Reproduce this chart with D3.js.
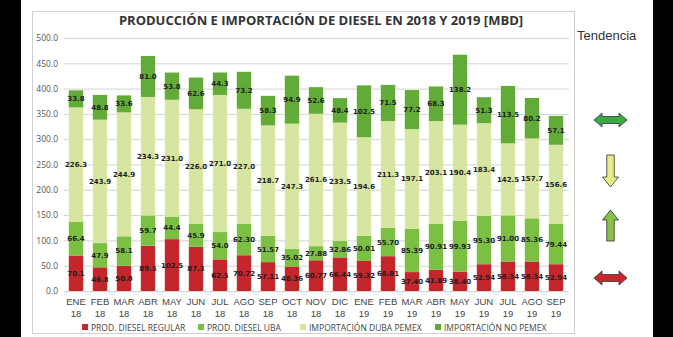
<!DOCTYPE html>
<html><head><meta charset="utf-8">
<script src="https://cdn.jsdelivr.net/npm/d3@7"></script>
<style>html,body{margin:0;padding:0;background:#fff;}svg{display:block;}</style>
</head><body>
<svg id="c" width="673" height="337"></svg>
<script>
const categories = ["ENE 18","FEB 18","MAR 18","ABR 18","MAY 18","JUN 18","JUL 18","AGO 18","SEP 18","OCT 18","NOV 18","DIC 18","ENE 19","FEB 19","MAR 19","ABR 19","MAY 19","JUN 19","JUL 19","AGO 19","SEP 19"];
const prodRegular = [70.1,46.8,50.0,89.5,102.5,87.3,62.5,70.72,57.11,48.36,60.77,66.44,59.32,68.81,37.40,41.89,38.40,52.94,58.34,58.34,52.94];
const prodRegularLbl = ["70.1","46.8","50.0","89.5","102.5","87.3","62.5","70.72","57.11","48.36","60.77","66.44","59.32","68.81","37.40","41.89","38.40","52.94","58.34","58.34","52.94"];
const prodUba = [66.4,47.9,58.1,59.7,44.4,45.9,54.0,62.30,51.57,35.02,27.88,32.86,50.01,55.70,85.39,90.91,99.93,95.30,91.00,85.36,79.44];
const prodUbaLbl = ["66.4","47.9","58.1","59.7","44.4","45.9","54.0","62.30","51.57","35.02","27.88","32.86","50.01","55.70","85.39","90.91","99.93","95.30","91.00","85.36","79.44"];
const impDuba = [226.3,243.9,244.9,234.3,231.0,226.0,271.0,227.0,218.7,247.3,261.6,233.5,194.6,211.3,197.1,203.1,190.4,183.4,142.5,157.7,156.6];
const impDubaLbl = ["226.3","243.9","244.9","234.3","231.0","226.0","271.0","227.0","218.7","247.3","261.6","233.5","194.6","211.3","197.1","203.1","190.4","183.4","142.5","157.7","156.6"];
const impNoPemex = [33.8,48.8,33.6,81.0,53.8,62.6,44.3,73.2,58.3,94.9,52.6,48.4,102.5,71.5,77.2,68.3,138.2,51.3,113.5,80.2,57.1];
const impNoPemexLbl = ["33.8","48.8","33.6","81.0","53.8","62.6","44.3","73.2","58.3","94.9","52.6","48.4","102.5","71.5","77.2","68.3","138.2","51.3","113.5","80.2","57.1"];
const seriesNames = ["PROD. DIESEL REGULAR","PROD. DIESEL UBA","IMPORTACIÓN DUBA PEMEX","IMPORTACIÓN NO PEMEX"];
const yTicks = [0,50,100,150,200,250,300,350,400,450,500];
const title = "PRODUCCIÓN E IMPORTACIÓN DE DIESEL EN 2018 Y 2019 [MBD]";

const colors = ["#c4262b","#7cc043","#d6e5a0","#62ab36"];
const svg = d3.select("#c");
const font = "'Open Sans', 'Liberation Sans', sans-serif";

// scanned page edges
svg.append("rect").attr("x",0).attr("y",0).attr("width",21).attr("height",337).attr("fill","#000");
svg.append("rect").attr("x",653).attr("y",0).attr("width",20).attr("height",337).attr("fill","#000");
// chart frame
svg.append("rect").attr("x",32.5).attr("y",11.5).attr("width",542).attr("height",322).attr("fill","#fff").attr("stroke","#d0d0d0");

const x = d3.scaleBand().domain(categories).range([64,568]).paddingInner(0.4).paddingOuter(0.2);
const y = d3.scaleLinear().domain([0,500]).range([291,38]);

// gridlines
svg.append("g").selectAll("line").data(yTicks).join("line")
  .attr("x1",64).attr("x2",569).attr("y1",d=>y(d)+0.5).attr("y2",d=>y(d)+0.5)
  .attr("stroke","#d4d4d4").attr("stroke-width",1);

// y axis labels
const yAxis = d3.axisLeft(y).tickValues(yTicks).tickFormat(d3.format(".1f")).tickSize(0).tickPadding(0);
const ya = svg.append("g").attr("transform","translate(58,0)").call(yAxis);
ya.select(".domain").remove();
ya.selectAll("text").attr("font-family",font).attr("font-size",8.5).attr("fill","#555");

// stacked data
const rows = categories.map((c,i)=>({cat:c, s0:prodRegular[i], s1:prodUba[i], s2:impDuba[i], s3:impNoPemex[i]}));
const labels = [prodRegularLbl, prodUbaLbl, impDubaLbl, impNoPemexLbl];
const stack = d3.stack().keys(["s0","s1","s2","s3"])(rows);

stack.forEach((layer,k)=>{
  const g = svg.append("g");
  g.selectAll("rect").data(layer).join("rect")
    .attr("x",d=>x(d.data.cat)).attr("width",x.bandwidth())
    .attr("y",d=>y(d[1])).attr("height",d=>y(d[0])-y(d[1]))
    .attr("fill",colors[k]);
  g.selectAll("text").data(layer).join("text")
    .attr("x",d=>x(d.data.cat)+x.bandwidth()/2)
    .attr("y",d=>(y(d[0])+y(d[1]))/2)
    .attr("dy","0.35em").attr("text-anchor","middle")
    .attr("font-family","'DejaVu Sans', sans-serif").attr("font-weight","bold")
    .attr("font-size",7).attr("fill","#1e1e1e")
    .text((d,i)=>labels[k][i]);
});

// x axis labels (two separate lines)
const xa = svg.append("g");
categories.forEach(c=>{
  const parts = c.split(" ");
  const cx = x(c)+x.bandwidth()/2;
  xa.append("text").attr("x",cx).attr("y",305).attr("text-anchor","middle")
    .attr("font-family","'Liberation Sans', sans-serif").attr("font-size",9.5).attr("fill","#444").text(parts[0]);
  xa.append("text").attr("x",cx).attr("y",316.5).attr("text-anchor","middle")
    .attr("font-family","'Liberation Sans', sans-serif").attr("font-size",9.5).attr("fill","#444").text(parts[1]);
});

// title
svg.append("text").attr("x",321).attr("y",25).attr("text-anchor","middle")
  .attr("font-family","'Open Sans', sans-serif").attr("font-weight","bold").attr("font-size",13).attr("fill","#333")
  .text(title);

// legend
const legX = [82,198,300,435];
seriesNames.forEach((n,k)=>{
  svg.append("rect").attr("x",legX[k]).attr("y",324).attr("width",6).attr("height",6).attr("fill",colors[k]);
  svg.append("text").attr("x",legX[k]+9).attr("y",330.5).attr("font-family",font).attr("font-size",8.5).attr("fill","#444").text(n);
});

// Tendencia
svg.append("text").attr("x",577).attr("y",40).attr("font-family","'Liberation Sans', sans-serif").attr("font-size",13).attr("fill","#333").text("Tendencia");

// arrows
function dblArrow(cx,cy,w,h,sh,hw,fill){
  const hx=w/2, p=[[cx-hx,cy],[cx-hx+hw,cy-h/2],[cx-hx+hw,cy-sh/2],[cx+hx-hw,cy-sh/2],[cx+hx-hw,cy-h/2],[cx+hx,cy],[cx+hx-hw,cy+h/2],[cx+hx-hw,cy+sh/2],[cx-hx+hw,cy+sh/2],[cx-hx+hw,cy+h/2]];
  svg.append("polygon").attr("points",p.map(d=>d.join(",")).join(" ")).attr("fill",fill).attr("stroke","#333").attr("stroke-width",0.8);
}
function vArrow(cx,top,bot,w,sw,hh,up,fill){
  let p;
  if(up){ p=[[cx,top],[cx+w/2,top+hh],[cx+sw/2,top+hh],[cx+sw/2,bot],[cx-sw/2,bot],[cx-sw/2,top+hh],[cx-w/2,top+hh]]; }
  else { p=[[cx,bot],[cx+w/2,bot-hh],[cx+sw/2,bot-hh],[cx+sw/2,top],[cx-sw/2,top],[cx-sw/2,bot-hh],[cx-w/2,bot-hh]]; }
  svg.append("polygon").attr("points",p.map(d=>d.join(",")).join(" ")).attr("fill",fill).attr("stroke","#333").attr("stroke-width",0.8);
}
dblArrow(610.5,120,33,14,7,8,"#3aa843");
vArrow(610.5,155,187,16,7.5,10,false,"#e8ea86");
vArrow(610.5,210,241,16,7.5,10,true,"#86c045");
dblArrow(610.5,278,33,14,7,8,"#c6282c");
</script>
</body></html>
